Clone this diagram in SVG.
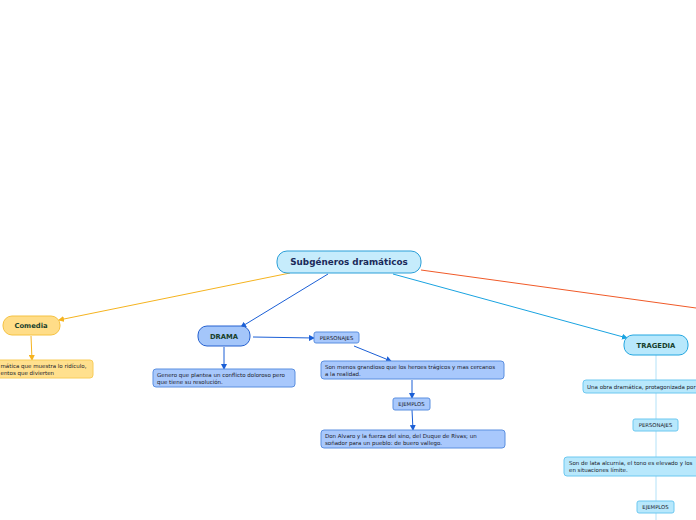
<svg xmlns="http://www.w3.org/2000/svg" width="696" height="520" viewBox="0 0 696 520">
<style>
text{font-family:"DejaVu Sans","Liberation Sans",Arial,sans-serif;}
.t{font-size:5.5px;fill:#1a1a2a;}
.lbl{font-size:5.3px;fill:#1a1a2a;}
.main{font-size:6.8px;font-weight:bold;fill:#17402c;}
.c{fill:none;stroke-width:1;}
</style>
<defs>
<marker id="aO" markerWidth="6" markerHeight="6" refX="5" refY="3" orient="auto" markerUnits="userSpaceOnUse"><path d="M0,0 L6,3 L0,6z" fill="#f5b31f"/></marker>
<marker id="aB" markerWidth="6" markerHeight="6" refX="5" refY="3" orient="auto" markerUnits="userSpaceOnUse"><path d="M0,0 L6,3 L0,6z" fill="#1b5fd6"/></marker>
<marker id="aL" markerWidth="6" markerHeight="6" refX="5" refY="3" orient="auto" markerUnits="userSpaceOnUse"><path d="M0,0 L6,3 L0,6z" fill="#1aa3e0"/></marker>
</defs>
<rect width="696" height="520" fill="#ffffff"/>
<g id="connectors">
<line class="c" x1="290" y1="273" x2="59" y2="320" stroke="#f5b31f" marker-end="url(#aO)"/>
<line class="c" x1="31" y1="336" x2="32" y2="360" stroke="#f5b31f" marker-end="url(#aO)"/>
<line class="c" x1="328" y1="274" x2="241" y2="327" stroke="#1b5fd6" marker-end="url(#aB)"/>
<line class="c" x1="224" y1="347" x2="224" y2="369" stroke="#1b5fd6" marker-end="url(#aB)"/>
<line class="c" x1="253" y1="337" x2="314" y2="338" stroke="#1b5fd6" marker-end="url(#aB)"/>
<line class="c" x1="354" y1="346" x2="391" y2="361" stroke="#1b5fd6" marker-end="url(#aB)"/>
<line class="c" x1="412" y1="380" x2="412" y2="398" stroke="#1b5fd6" marker-end="url(#aB)"/>
<line class="c" x1="412" y1="410" x2="413" y2="430" stroke="#1b5fd6" marker-end="url(#aB)"/>
<line class="c" x1="393" y1="274" x2="627" y2="338" stroke="#1aa3e0" marker-end="url(#aL)"/>
<line class="c" x1="421" y1="270" x2="696" y2="308" stroke="#f05a28"/>
<line class="c" x1="656" y1="355" x2="656" y2="520" stroke="#b3e2f8" stroke-width="1.5"/>
</g>
<g id="root">
<rect x="277" y="251" width="144" height="22" rx="10" fill="#c6ecfc" stroke="#2b9fd8" stroke-width="1"/>
<text x="349" y="265" text-anchor="middle" style="font-size:8.8px;font-weight:bold;fill:#1b2a5a">Subgéneros dramáticos</text>
</g>
<g id="comedia">
<rect x="3" y="316" width="57" height="19" rx="9" fill="#ffdd88" stroke="#f5c242"/>
<text x="31" y="328" text-anchor="middle" class="main">Comedia</text>
</g>
<g id="comedia-def">
<rect x="-6" y="360" width="99" height="18" rx="3" fill="#ffe08e" stroke="#f8cd5a"/>
<text x="0.5" y="368" class="t">mática que muestra lo ridículo,</text>
<text x="0.5" y="375" class="t">entos que divierten</text>
</g>
<g id="drama">
<rect x="198" y="326" width="52" height="20" rx="9" fill="#a4c6fa" stroke="#2460d0"/>
<text x="224" y="338.5" text-anchor="middle" class="main">DRAMA</text>
</g>
<g id="drama-def">
<rect x="153" y="369" width="142" height="18" rx="3" fill="#a8c8fc" stroke="#5b8fe0"/>
<text x="157" y="376.5" class="t">Genero que plantea un conflicto doloroso pero</text>
<text x="157" y="383.5" class="t">que tiene su resolución.</text>
</g>
<g id="drama-personajes">
<rect x="314" y="332" width="45" height="11" rx="2" fill="#a8c8fc" stroke="#5b8fe0"/>
<text x="336.5" y="339.7" text-anchor="middle" class="lbl">PERSONAJES</text>
</g>
<g id="drama-personajes-def">
<rect x="321" y="361" width="183" height="18" rx="3" fill="#a8c8fc" stroke="#5b8fe0"/>
<text x="325" y="368.5" class="t">Son menos grandioso que los heroes trágicos y mas cercanos</text>
<text x="325" y="375.5" class="t">a la realidad.</text>
</g>
<g id="drama-ejemplos">
<rect x="393" y="398" width="37" height="12" rx="2" fill="#a8c8fc" stroke="#5b8fe0"/>
<text x="411.5" y="406" text-anchor="middle" class="lbl">EJEMPLOS</text>
</g>
<g id="drama-ejemplos-def">
<rect x="321" y="430" width="184" height="18" rx="3" fill="#a8c8fc" stroke="#5b8fe0"/>
<text x="325" y="437.5" class="t">Don Alvaro y la fuerza del sino, del Duque de Rivas; un</text>
<text x="325" y="444.5" class="t">soñador para un pueblo: de buero vallego.</text>
</g>
<g id="tragedia">
<rect x="624" y="335" width="64" height="20" rx="9" fill="#b8e8fc" stroke="#22a6e0"/>
<text x="656" y="347.5" text-anchor="middle" class="main">TRAGEDIA</text>
</g>
<g id="tragedia-def">
<rect x="583" y="380" width="130" height="13" rx="3" fill="#b8e8fc" stroke="#6cc8f0"/>
<text x="587" y="388.5" class="t">Una obra dramática, protagonizada por</text>
</g>
<g id="tragedia-personajes">
<rect x="633" y="419" width="45" height="12" rx="2" fill="#b8e8fc" stroke="#6cc8f0"/>
<text x="655.5" y="427" text-anchor="middle" class="lbl">PERSONAJES</text>
</g>
<g id="tragedia-personajes-def">
<rect x="564" y="457" width="150" height="19" rx="3" fill="#b8e8fc" stroke="#6cc8f0"/>
<text x="569" y="465" class="t">Son de lata alcurnia, el tono es elevado y los</text>
<text x="569" y="472" class="t">en situaciones límite.</text>
</g>
<g id="tragedia-ejemplos">
<rect x="637" y="501" width="37" height="12" rx="2" fill="#b8e8fc" stroke="#6cc8f0"/>
<text x="655.5" y="509" text-anchor="middle" class="lbl">EJEMPLOS</text>
</g>
</svg>
